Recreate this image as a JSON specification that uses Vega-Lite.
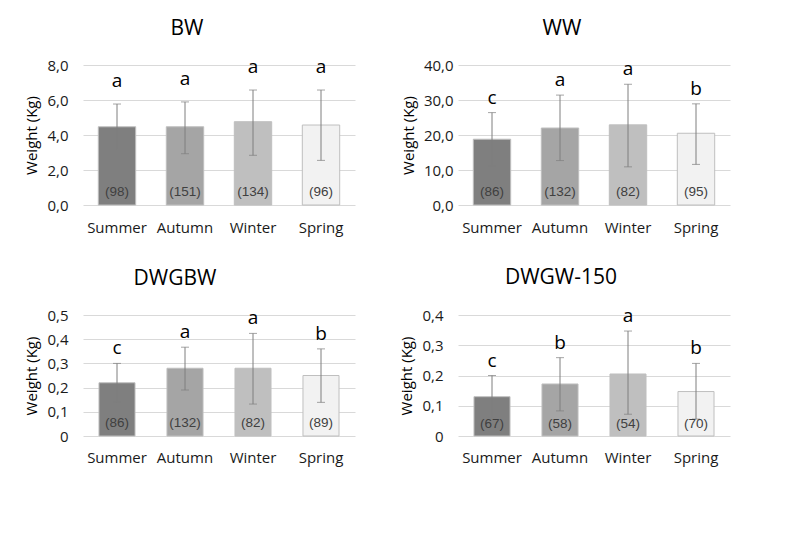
{
  "$schema": "https://vega.github.io/schema/vega-lite/v6.json",
  "padding": {"left": 24, "top": 18, "right": 5, "bottom": 5},
  "background": "white",
  "data": {"values": [
    {"panel": "BW", "season": "Summer", "mean": 4.47, "lo": 3.17, "hi": 5.77, "nlab": "(98)", "letter": "a"},
    {"panel": "BW", "season": "Autumn", "mean": 4.47, "lo": 2.93, "hi": 5.89, "nlab": "(151)", "letter": "a"},
    {"panel": "BW", "season": "Winter", "mean": 4.76, "lo": 2.84, "hi": 6.57, "nlab": "(134)", "letter": "a"},
    {"panel": "BW", "season": "Spring", "mean": 4.57, "lo": 2.55, "hi": 6.57, "nlab": "(96)", "letter": "a"},
    {"panel": "WW", "season": "Summer", "mean": 18.8, "lo": 11.2, "hi": 26.4, "nlab": "(86)", "letter": "c"},
    {"panel": "WW", "season": "Autumn", "mean": 22.0, "lo": 12.7, "hi": 31.4, "nlab": "(132)", "letter": "a"},
    {"panel": "WW", "season": "Winter", "mean": 22.9, "lo": 10.9, "hi": 34.5, "nlab": "(82)", "letter": "a"},
    {"panel": "WW", "season": "Spring", "mean": 20.5, "lo": 11.6, "hi": 28.9, "nlab": "(95)", "letter": "b"},
    {"panel": "DWGBW", "season": "Summer", "mean": 0.22, "lo": 0.14, "hi": 0.30, "nlab": "(86)", "letter": "c"},
    {"panel": "DWGBW", "season": "Autumn", "mean": 0.28, "lo": 0.19, "hi": 0.367, "nlab": "(132)", "letter": "a"},
    {"panel": "DWGBW", "season": "Winter", "mean": 0.28, "lo": 0.132, "hi": 0.424, "nlab": "(82)", "letter": "a"},
    {"panel": "DWGBW", "season": "Spring", "mean": 0.25, "lo": 0.139, "hi": 0.36, "nlab": "(89)", "letter": "b"},
    {"panel": "DWGW-150", "season": "Summer", "mean": 0.13, "lo": 0.06, "hi": 0.20, "nlab": "(67)", "letter": "c"},
    {"panel": "DWGW-150", "season": "Autumn", "mean": 0.172, "lo": 0.083, "hi": 0.259, "nlab": "(58)", "letter": "b"},
    {"panel": "DWGW-150", "season": "Winter", "mean": 0.205, "lo": 0.072, "hi": 0.347, "nlab": "(54)", "letter": "a"},
    {"panel": "DWGW-150", "season": "Spring", "mean": 0.147, "lo": 0.056, "hi": 0.24, "nlab": "(70)", "letter": "b"}
  ]},
  "columns": 2,
  "spacing": {"row": 110, "column": 103},
  "bounds": "flush",
  "concat": [
    {
      "width": 272, "height": 140,
      "title": {"text": "BW", "dx": -32},
      "transform": [{"filter": "datum.panel === 'BW'"}],
      "encoding": {"x": {"field": "season", "type": "nominal", "sort": ["Summer", "Autumn", "Winter", "Spring"], "scale": {"paddingInner": 0.45, "paddingOuter": 0.225}, "title": null}},
      "layer": [
        {"mark": {"type": "bar", "stroke": "#bfbfbf", "strokeWidth": 1},
         "encoding": {
           "y": {"field": "mean", "type": "quantitative", "title": "Weight (Kg)", "scale": {"domain": [0, 8]}, "axis": {"values": [0, 2, 4, 6, 8], "tickCount": 20, "labelExpr": "replace(format(datum.value, '.1f'), '.', ',')"}},
           "color": {"field": "season", "type": "nominal", "scale": {"domain": ["Summer", "Autumn", "Winter", "Spring"], "range": ["#7f7f7f", "#a5a5a5", "#bfbfbf", "#f2f2f2"]}, "legend": null}}},
        {"mark": {"type": "errorbar", "ticks": {"size": 8}, "color": "#7f7f7f"},
         "encoding": {"y": {"field": "lo", "type": "quantitative", "title": "Weight (Kg)"}, "y2": {"field": "hi"}}},
        {"mark": {"type": "text", "baseline": "middle", "dy": -13, "font": "Liberation Sans", "fontSize": 13.5, "color": "#404040"},
         "encoding": {"y": {"datum": 0, "type": "quantitative"}, "text": {"field": "nlab"}}},
        {"mark": {"type": "text", "baseline": "alphabetic", "dy": -17, "font": "Open Sans", "fontSize": 19, "color": "#000000"},
         "encoding": {"y": {"field": "hi", "type": "quantitative", "title": "Weight (Kg)"}, "text": {"field": "letter"}}}
      ]
    },
    {
      "width": 272, "height": 140,
      "title": {"text": "WW", "dx": -32},
      "transform": [{"filter": "datum.panel === 'WW'"}],
      "encoding": {"x": {"field": "season", "type": "nominal", "sort": ["Summer", "Autumn", "Winter", "Spring"], "scale": {"paddingInner": 0.45, "paddingOuter": 0.225}, "title": null}},
      "layer": [
        {"mark": {"type": "bar", "stroke": "#bfbfbf", "strokeWidth": 1},
         "encoding": {
           "y": {"field": "mean", "type": "quantitative", "title": "Weight (Kg)", "scale": {"domain": [0, 40]}, "axis": {"values": [0, 10, 20, 30, 40], "tickCount": 20, "labelPadding": 5, "labelExpr": "replace(format(datum.value, '.1f'), '.', ',')"}},
           "color": {"field": "season", "type": "nominal", "scale": {"domain": ["Summer", "Autumn", "Winter", "Spring"], "range": ["#7f7f7f", "#a5a5a5", "#bfbfbf", "#f2f2f2"]}, "legend": null}}},
        {"mark": {"type": "errorbar", "ticks": {"size": 8}, "color": "#7f7f7f"},
         "encoding": {"y": {"field": "lo", "type": "quantitative", "title": "Weight (Kg)"}, "y2": {"field": "hi"}}},
        {"mark": {"type": "text", "baseline": "middle", "dy": -13, "font": "Liberation Sans", "fontSize": 13.5, "color": "#404040"},
         "encoding": {"y": {"datum": 0, "type": "quantitative"}, "text": {"field": "nlab"}}},
        {"mark": {"type": "text", "baseline": "alphabetic", "dy": -9, "font": "Open Sans", "fontSize": 19, "color": "#000000"},
         "encoding": {"y": {"field": "hi", "type": "quantitative", "title": "Weight (Kg)"}, "text": {"field": "letter"}}}
      ]
    },
    {
      "width": 272, "height": 121,
      "title": {"text": "DWGBW", "dx": -44},
      "transform": [{"filter": "datum.panel === 'DWGBW'"}],
      "encoding": {"x": {"field": "season", "type": "nominal", "sort": ["Summer", "Autumn", "Winter", "Spring"], "scale": {"paddingInner": 0.47, "paddingOuter": 0.235}, "title": null, "axis": {"labelPadding": 14}}},
      "layer": [
        {"mark": {"type": "bar", "stroke": "#bfbfbf", "strokeWidth": 1},
         "encoding": {
           "y": {"field": "mean", "type": "quantitative", "title": "Weight (Kg)", "scale": {"domain": [0, 0.5]}, "axis": {"values": [0, 0.1, 0.2, 0.3, 0.4, 0.5], "tickCount": 20, "labelExpr": "replace(format(datum.value, '.1~f'), '.', ',')"}},
           "color": {"field": "season", "type": "nominal", "scale": {"domain": ["Summer", "Autumn", "Winter", "Spring"], "range": ["#7f7f7f", "#a5a5a5", "#bfbfbf", "#f2f2f2"]}, "legend": null}}},
        {"mark": {"type": "errorbar", "ticks": {"size": 8}, "color": "#7f7f7f"},
         "encoding": {"y": {"field": "lo", "type": "quantitative", "title": "Weight (Kg)"}, "y2": {"field": "hi"}}},
        {"mark": {"type": "text", "baseline": "middle", "dy": -13, "font": "Liberation Sans", "fontSize": 13.5, "color": "#404040"},
         "encoding": {"y": {"datum": 0, "type": "quantitative"}, "text": {"field": "nlab"}}},
        {"mark": {"type": "text", "baseline": "alphabetic", "dy": -9, "font": "Open Sans", "fontSize": 19, "color": "#000000"},
         "encoding": {"y": {"field": "hi", "type": "quantitative", "title": "Weight (Kg)"}, "text": {"field": "letter"}}}
      ]
    },
    {
      "width": 272, "height": 121,
      "title": {"text": "DWGW-150", "dx": -33},
      "transform": [{"filter": "datum.panel === 'DWGW-150'"}],
      "encoding": {"x": {"field": "season", "type": "nominal", "sort": ["Summer", "Autumn", "Winter", "Spring"], "scale": {"paddingInner": 0.47, "paddingOuter": 0.235}, "title": null, "axis": {"labelPadding": 14}}},
      "layer": [
        {"mark": {"type": "bar", "stroke": "#bfbfbf", "strokeWidth": 1},
         "encoding": {
           "y": {"field": "mean", "type": "quantitative", "title": "Weight (Kg)", "scale": {"domain": [0, 0.4]}, "axis": {"values": [0, 0.1, 0.2, 0.3, 0.4], "tickCount": 20, "labelExpr": "replace(format(datum.value, '.1~f'), '.', ',')"}},
           "color": {"field": "season", "type": "nominal", "scale": {"domain": ["Summer", "Autumn", "Winter", "Spring"], "range": ["#7f7f7f", "#a5a5a5", "#bfbfbf", "#f2f2f2"]}, "legend": null}}},
        {"mark": {"type": "errorbar", "ticks": {"size": 8}, "color": "#7f7f7f"},
         "encoding": {"y": {"field": "lo", "type": "quantitative", "title": "Weight (Kg)"}, "y2": {"field": "hi"}}},
        {"mark": {"type": "text", "baseline": "middle", "dy": -12, "font": "Liberation Sans", "fontSize": 13.5, "color": "#404040"},
         "encoding": {"y": {"datum": 0, "type": "quantitative"}, "text": {"field": "nlab"}}},
        {"mark": {"type": "text", "baseline": "alphabetic", "dy": -9, "font": "Open Sans", "fontSize": 19, "color": "#000000"},
         "encoding": {"y": {"field": "hi", "type": "quantitative", "title": "Weight (Kg)"}, "text": {"field": "letter"}}}
      ]
    }
  ],
  "config": {
    "view": {"stroke": null},
    "title": {"font": "Open Sans", "fontSize": 21, "fontWeight": "normal", "color": "#000000", "anchor": "middle", "offset": 19},
    "axis": {"labelFont": "Open Sans", "titleFont": "Open Sans", "labelColor": "#1a1a1a", "titleColor": "#000000", "titleFontWeight": "normal", "domain": false, "ticks": false, "labelOverlap": false},
    "axisX": {"labelAngle": 0, "labelFontSize": 15, "labelPadding": 15, "grid": false},
    "axisY": {"labelFontSize": 15, "labelPadding": 15, "titleFontSize": 15, "titlePadding": 7, "gridColor": "#d9d9d9", "gridWidth": 1}
  }
}
